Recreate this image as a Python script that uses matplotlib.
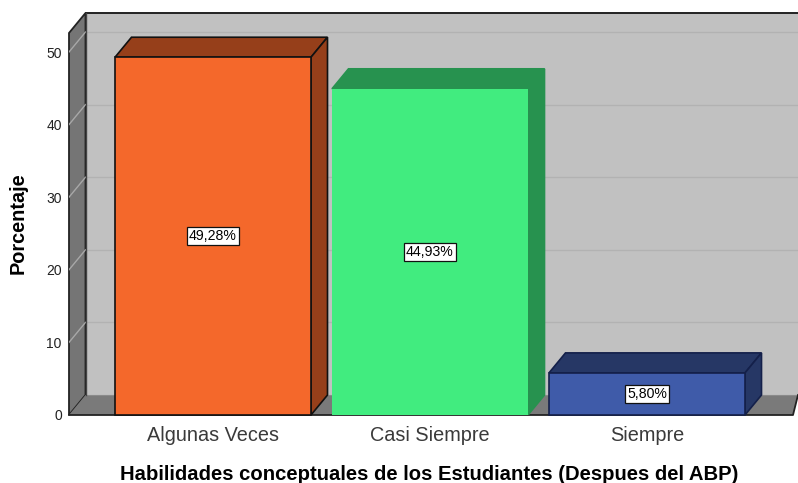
import matplotlib
matplotlib.use("Agg")
import matplotlib.pyplot as plt
from matplotlib.patches import Polygon

categories = ["Algunas Veces", "Casi Siempre", "Siempre"]
values = [49.28, 44.93, 5.80]
labels = ["49,28%", "44,93%", "5,80%"]
yticks = [0, 10, 20, 30, 40, 50]
xlabel = "Habilidades conceptuales de los Estudiantes (Despues del ABP)"
ylabel = "Porcentaje"

front = ["#F4682B", "#41EC7F", "#3F5BA9"]
side = ["#963F1A", "#27924F", "#263765"]
edges = ["#111111", "none", "#14204A"]

W, H = 798, 483
PX_UNIT_Y = 7.26
PX_UNIT_X = 217.0
L, B, T = 69, 415, 13
X0 = 213
plt.rcParams["font.family"] = ["Liberation Sans", "DejaVu Sans"]

fig = plt.figure(figsize=(W / 100, H / 100), dpi=100, facecolor="white")
ax = fig.add_axes([L / W, (H - B) / H, (W - L) / W, (B - T) / H])
ax.patch.set_visible(False)
ax.set_xlim((L - X0) / PX_UNIT_X, (W - X0) / PX_UNIT_X)
ax.set_ylim(0, (B - T) / PX_UNIT_Y)
for s in ax.spines.values():
    s.set_visible(False)

dx = 16.5 / PX_UNIT_X
dy = 20 / PX_UNIT_Y
x_left, x_right = ax.get_xlim()
y_top = ax.get_ylim()[1]
x_floor_end = (793 - X0) / PX_UNIT_X
line = "#222222"

# back wall, left wall, floor
ax.add_patch(Polygon([(x_left + dx, dy), (x_right, dy), (x_right, y_top), (x_left + dx, y_top)],
                     closed=True, fc="#C1C1C1", ec="none", zorder=1))
ax.add_patch(Polygon([(x_left, 0), (x_left + dx, dy), (x_left + dx, y_top), (x_left, y_top - dy)],
                     closed=True, fc="#757575", ec=line, lw=1.3, zorder=2, clip_on=False))
ax.add_patch(Polygon([(x_left, 0), (x_left + dx, dy), (x_right, dy), (x_floor_end, 0)],
                     closed=True, fc="#7A7A7A", ec="none", zorder=2))
ax.plot([x_left, x_floor_end, x_right], [0, 0, dy], color=line, lw=1.3, zorder=3, clip_on=False)
ax.plot([x_left + dx, x_right], [y_top, y_top], color=line, lw=1.4, zorder=3, clip_on=False)
ax.plot([x_left + dx, x_right], [dy, dy], color="#8A8A8A", lw=0.8, zorder=2)
ax.plot([x_left + dx, x_left + dx], [dy, y_top], color="#444444", lw=1.0, zorder=3)

# grid lines on the wall
for t in yticks[1:]:
    ax.plot([x_left + dx, x_right], [t + dy, t + dy], color="#B2B2B2", lw=1.0, zorder=1.5)
    ax.plot([x_left, x_left + dx], [t, t + dy], color="#A8A8A8", lw=1.0, zorder=2.5)

# bars
w = 196 / PX_UNIT_X
xs = list(range(len(categories)))
ax.bar(xs, values, width=w, color=front, edgecolor=edges, linewidth=1.2, zorder=5, clip_on=False)
for x, v, sc, ec in zip(xs, values, side, edges):
    l, r = x - w / 2, x + w / 2
    e = sc if ec == "none" else ec
    ax.add_patch(Polygon([(l, v), (r, v), (r + dx, v + dy), (l + dx, v + dy)],
                         closed=True, fc=sc, ec=e, lw=1.2, zorder=4))
    ax.add_patch(Polygon([(r, 0), (r + dx, dy), (r + dx, v + dy), (r, v)],
                         closed=True, fc=sc, ec=e, lw=1.2, zorder=4))

for x, v, lab in zip(xs, values, labels):
    ax.text(x, v / 2, lab, ha="center", va="center", fontsize=10.2, color="black", zorder=6,
            bbox=dict(boxstyle="square,pad=0.12", fc="white", ec="#111111", lw=0.9))

ax.set_yticks(yticks)
ax.set_yticklabels([str(t) for t in yticks], fontsize=10, color="#222222")
ax.set_xticks(xs)
ax.set_xticklabels(categories, fontsize=14.3, color="#3A3A3A")
ax.tick_params(axis="both", length=0)
ax.tick_params(axis="x", pad=8)
ax.tick_params(axis="y", pad=5.2)
ax.set_xlabel(xlabel, fontsize=14.55, fontweight="bold", color="black")
ax.xaxis.set_label_coords((429.5 - L) / (W - L), -(474.5 - B) / (B - T), transform=ax.transAxes)
ax.xaxis.label.set_va("center")
ax.set_ylabel(ylabel, fontsize=14.3, fontweight="bold", color="black")
ax.yaxis.set_label_coords((18 - L) / (W - L), (B - 223) / (B - T), transform=ax.transAxes)
ax.yaxis.label.set_va("center")

fig.savefig("out.png", dpi=100)
